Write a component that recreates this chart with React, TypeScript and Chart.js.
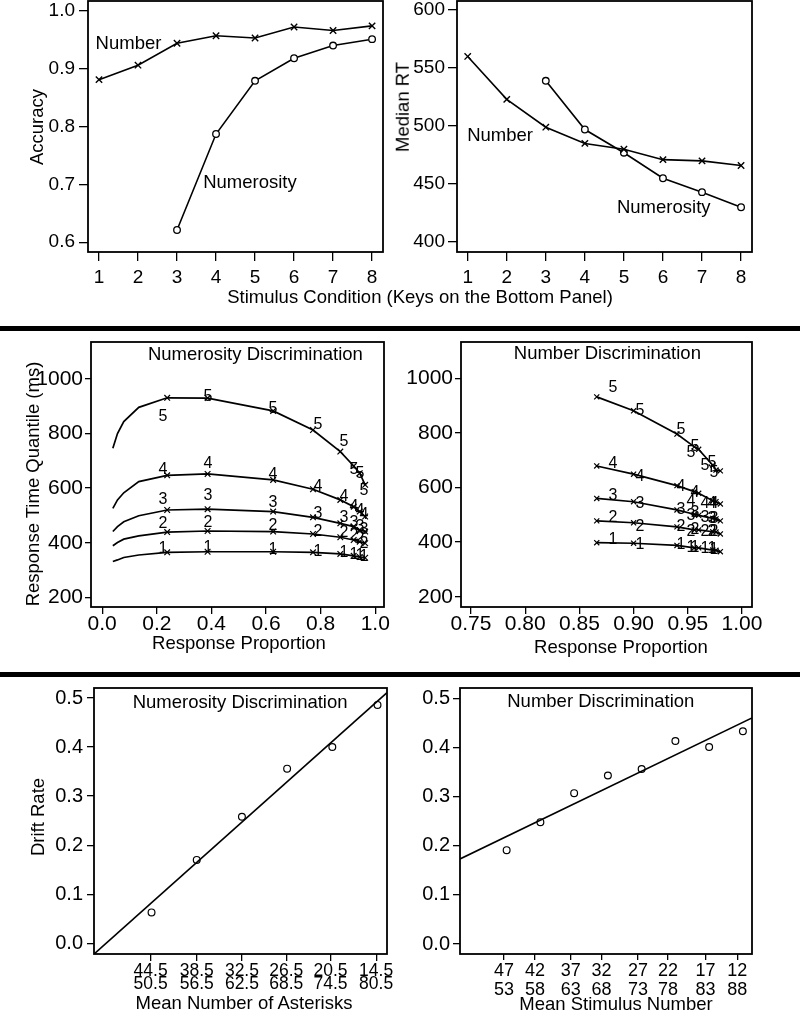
import React, { useEffect, useRef } from 'react';
import { Chart, registerables } from 'chart.js';
Chart.register(...registerables);

const FONT = '"Liberation Sans", Arial, Helvetica, sans-serif';
Chart.defaults.font.family = FONT;

// ---------------- Top row: accuracy and median RT ----------------
const conditions = [1, 2, 3, 4, 5, 6, 7, 8];
const numerosityConditions = [3, 4, 5, 6, 7, 8];
const accuracyNumber = [0.881, 0.906, 0.944, 0.957, 0.953, 0.972, 0.966, 0.974];
const accuracyNumerosity = [0.621, 0.787, 0.879, 0.918, 0.94, 0.951];
const medianRtNumber = [560, 523, 499, 485, 480, 471, 470, 466];
const medianRtNumerosity = [539, 497, 477, 455, 443, 430];
const conditionTicks = [1, 2, 3, 4, 5, 6, 7, 8];
const accuracyTicks = [0.6, 0.7, 0.8, 0.9, 1.0];
const rtTicks = [400, 450, 500, 550, 600];

// ---------------- Middle row: quantile-probability plots ----------------
const quantileTicks = [200, 400, 600, 800, 1000];
const numerosityPropTicks = [0, 0.2, 0.4, 0.6, 0.8, 1.0];
const numberPropTicks = [0.75, 0.8, 0.85, 0.9, 0.95, 1.0];

const numerosityPredProp = [0.039, 0.056, 0.079, 0.134, 0.238, 0.386, 0.626, 0.772, 0.872, 0.921, 0.943, 0.963];
const numerosityPredQ1 = [331, 337, 346, 355, 365, 367, 367, 365, 359, 352, 348, 345];
const numerosityPredQ2 = [389, 401, 413, 425, 439, 443, 441, 432, 420, 410, 404, 398];
const numerosityPredQ3 = [441, 459, 477, 499, 520, 523, 514, 493, 471, 459, 447, 441];
const numerosityPredQ4 = [526, 557, 583, 624, 647, 652, 630, 596, 557, 532, 514, 496];
const numerosityPredQ5 = [746, 800, 844, 896, 931, 930, 883, 813, 734, 681, 655, 612];

const numerosityObsProp = [0.222, 0.386, 0.626, 0.79, 0.884, 0.921, 0.945, 0.957];
const numerosityObsQ1 = [376, 382, 374, 365, 361, 356, 352, 347];
const numerosityObsQ2 = [468, 474, 463, 439, 435, 424, 415, 395];
const numerosityObsQ3 = [556, 570, 547, 506, 490, 471, 459, 447];
const numerosityObsQ4 = [667, 687, 650, 605, 569, 532, 516, 503];
const numerosityObsQ5 = [860, 935, 889, 831, 768, 668, 652, 590];

const numberPredProp = [0.866, 0.9, 0.94, 0.956, 0.96, 0.973, 0.976, 0.98];
const numberPredQ1 = [398, 396, 388, 379, 379, 371, 370, 365];
const numberPredQ2 = [478, 471, 456, 445, 445, 438, 437, 430];
const numberPredQ3 = [560, 548, 518, 502, 498, 487, 485, 478];
const numberPredQ4 = [679, 649, 607, 585, 579, 552, 548, 540];
const numberPredQ5 = [932, 881, 796, 749, 740, 682, 664, 661];

const numberObsProp = [0.881, 0.906, 0.944, 0.953, 0.957, 0.966, 0.972, 0.974];
const numberObsQ1 = [408, 390, 390, 380, 379, 375, 374, 372];
const numberObsQ2 = [489, 457, 457, 438, 444, 438, 438, 436];
const numberObsQ3 = [570, 538, 518, 497, 505, 488, 486, 484];
const numberObsQ4 = [685, 640, 603, 546, 580, 541, 540, 538];
const numberObsQ5 = [963, 880, 811, 725, 749, 679, 691, 652];

// ---------------- Bottom row: drift rates ----------------
const driftTicks = [0, 0.1, 0.2, 0.3, 0.4, 0.5];
const asteriskPos = [1, 2, 3, 4, 5, 6];
const asteriskTickPos = [0.98, 2.0, 3.0, 3.98, 4.96, 5.97];
const asteriskLow = ['44.5', '38.5', '32.5', '26.5', '20.5', '14.5'];
const asteriskHigh = ['50.5', '56.5', '62.5', '68.5', '74.5', '80.5'];
const driftNumerosity = [0.063, 0.17, 0.258, 0.356, 0.4, 0.486];
const fitNumerosityX = [-0.273, 6.21];
const fitNumerosityY = [-0.022, 0.511];

const stimulusPos = [1, 2, 3, 4, 5, 6, 7, 8];
const stimulusTickPos = [0.92, 1.84, 2.9, 3.81, 4.89, 5.78, 6.89, 7.83];
const stimulusLow = ['47', '42', '37', '32', '27', '22', '17', '12'];
const stimulusHigh = ['53', '58', '63', '68', '73', '78', '83', '88'];
const driftNumber = [0.191, 0.248, 0.307, 0.343, 0.356, 0.413, 0.401, 0.433];
const fitNumberX = [-0.382, 8.27];
const fitNumberY = [0.173, 0.46];

// ---------------- helpers ----------------
const PT = 20;
const PR = 30;

type Box = { L: number; T: number; R: number; B: number; YW: number; XH: number };

const pts = (xs: number[], ys: number[]) => xs.map((x, i) => ({ x, y: ys[i] }));

function axis(o: {
  min: number; max: number; ticks: number[];
  fmt: (v: number, i: number) => string | string[];
  size: number; len: number; pad: number; fit: number; horizontal: boolean; lineHeight?: number;
}) {
  return {
    type: 'linear',
    min: o.min,
    max: o.max,
    afterBuildTicks: (s: any) => { s.ticks = o.ticks.map((v) => ({ value: v })); },
    afterFit: (s: any) => { if (o.horizontal) s.height = o.fit; else s.width = o.fit; },
    ticks: {
      callback: (v: any, i: number) => o.fmt(Number(v), i),
      font: { family: FONT, size: o.size, lineHeight: o.lineHeight ?? 1 },
      color: '#000',
      padding: o.pad,
      autoSkip: false,
      maxRotation: 0,
      minRotation: 0,
    },
    grid: { drawOnChartArea: false, drawTicks: true, tickLength: o.len, color: '#000', tickColor: '#000', tickWidth: 1.3, lineWidth: 1.3 },
    border: { display: false },
  };
}

function framePlugin() {
  return {
    id: 'frame',
    afterDraw(chart: any) {
      const { left, top, width, height } = chart.chartArea;
      const ctx = chart.ctx;
      ctx.save();
      ctx.strokeStyle = '#000';
      ctx.lineWidth = 1.8;
      ctx.strokeRect(left, top, width, height);
      ctx.restore();
    },
  };
}

function textPlugin(items: { text: string; x: number; y: number }[]) {
  return {
    id: 'panelText',
    afterDatasetsDraw(chart: any) {
      const ctx = chart.ctx;
      ctx.save();
      ctx.fillStyle = '#000';
      ctx.textAlign = 'center';
      ctx.textBaseline = 'middle';
      // digit markers (observed quantiles) placed by the scales
      ctx.font = `16px ${FONT}`;
      chart.data.datasets.forEach((ds: any, i: number) => {
        if (!ds.digit) return;
        chart.getDatasetMeta(i).data.forEach((el: any) => {
          ctx.fillText(ds.digit, Math.round(el.x), Math.round(el.y));
        });
      });
      ctx.font = `18.5px ${FONT}`;
      for (const it of items) {
        ctx.fillText(it.text, chart.scales.x.getPixelForValue(it.x), chart.scales.y.getPixelForValue(it.y));
      }
      ctx.restore();
    },
  };
}

function baseOptions(x: any, y: any) {
  return {
    responsive: false,
    animation: false,
    events: [],
    devicePixelRatio: 1,
    layout: { padding: { top: PT, right: PR, left: 0, bottom: 0 } },
    plugins: { legend: { display: false }, tooltip: { enabled: false } },
    scales: { x, y },
  };
}

const lineStyle = { showLine: true, borderColor: '#000', borderWidth: 1.6, tension: 0, pointBorderColor: '#000' };

function Panel({ box, build }: { box: Box; build: () => any }) {
  const ref = useRef<HTMLCanvasElement>(null);
  const w = box.R - box.L + box.YW + PR;
  const h = box.B - box.T + PT + box.XH;
  useEffect(() => {
    const chart = new Chart(ref.current as HTMLCanvasElement, build());
    return () => chart.destroy();
  }, []);
  return (
    <canvas
      ref={ref}
      width={w}
      height={h}
      style={{ position: 'absolute', left: box.L - box.YW, top: box.T - PT, width: w, height: h }}
    />
  );
}

function Label({ x, y, text, rotate }: { x: number; y: number; text: string; rotate?: boolean }) {
  return (
    <div
      style={{
        position: 'absolute', left: x, top: y,
        transform: `translate(-50%, -50%)${rotate ? ' rotate(-90deg)' : ''}`,
        fontSize: 18.5, lineHeight: 1, whiteSpace: 'nowrap', color: '#000', fontFamily: FONT,
      }}
    >
      {text}
    </div>
  );
}

// ---------------- panel configs ----------------
const boxTL: Box = { L: 88, T: 1, R: 383, B: 252, YW: 88, XH: 40 };
const boxTR: Box = { L: 457, T: 1, R: 752, B: 252, YW: 70, XH: 40 };
const boxML: Box = { L: 91, T: 342, R: 384, B: 607, YW: 80, XH: 36 };
const boxMR: Box = { L: 461, T: 342, R: 752, B: 607, YW: 70, XH: 36 };
const boxBL: Box = { L: 94, T: 688, R: 387, B: 954, YW: 80, XH: 50 };
const boxBR: Box = { L: 460, T: 688, R: 752, B: 954, YW: 70, XH: 50 };

function buildTL() {
  return {
    type: 'scatter',
    data: {
      datasets: [
        { ...lineStyle, data: pts(conditions, accuracyNumber), pointStyle: 'crossRot', pointRadius: 4.5, pointBorderWidth: 1.4 },
        { ...lineStyle, data: pts(numerosityConditions, accuracyNumerosity), pointStyle: 'circle', pointRadius: 3.3, pointBorderWidth: 1.3, pointBackgroundColor: '#fff' },
      ],
    },
    options: baseOptions(
      axis({ min: 0.718, max: 8.28, ticks: conditionTicks, fmt: (v) => String(v), size: 19, len: 9, pad: 7, fit: boxTL.XH, horizontal: true }),
      axis({ min: 0.583, max: 1.017, ticks: accuracyTicks, fmt: (v) => v.toFixed(1), size: 19, len: 9, pad: 4, fit: boxTL.YW, horizontal: false }),
    ),
    plugins: [framePlugin(), textPlugin([
      { text: 'Number', x: 1.756, y: 0.943 },
      { text: 'Numerosity', x: 4.87, y: 0.702 },
    ])],
  };
}

function buildTR() {
  return {
    type: 'scatter',
    data: {
      datasets: [
        { ...lineStyle, data: pts(conditions, medianRtNumber), pointStyle: 'crossRot', pointRadius: 4.5, pointBorderWidth: 1.4 },
        { ...lineStyle, data: pts(numerosityConditions, medianRtNumerosity), pointStyle: 'circle', pointRadius: 3.3, pointBorderWidth: 1.3, pointBackgroundColor: '#fff' },
      ],
    },
    options: baseOptions(
      axis({ min: 0.726, max: 8.28, ticks: conditionTicks, fmt: (v) => String(v), size: 19, len: 9, pad: 7, fit: boxTR.XH, horizontal: true }),
      axis({ min: 391.4, max: 607.8, ticks: rtTicks, fmt: (v) => String(v), size: 19, len: 9, pad: 3, fit: boxTR.YW, horizontal: false }),
    ),
    plugins: [framePlugin(), textPlugin([
      { text: 'Number', x: 1.83, y: 491.4 },
      { text: 'Numerosity', x: 6.02, y: 429.3 },
    ])],
  };
}

function qpDatasets(predX: number[], preds: number[][], obsX: number[], obs: number[][], markR: number, showMark: (x: number) => boolean) {
  const ds: any[] = [];
  preds.forEach((ys, q) => {
    ds.push({
      ...lineStyle,
      borderWidth: 1.7,
      data: pts(predX, ys),
      pointStyle: 'crossRot',
      pointRadius: predX.map((x) => (showMark(x) ? markR : 0)),
      pointBorderWidth: 1.2,
    });
    ds.push({
      data: pts(obsX, obs[q]),
      showLine: false,
      pointRadius: 0,
      digit: String(q + 1),
    });
  });
  return ds;
}

function buildML() {
  return {
    type: 'scatter',
    data: {
      datasets: qpDatasets(
        numerosityPredProp,
        [numerosityPredQ1, numerosityPredQ2, numerosityPredQ3, numerosityPredQ4, numerosityPredQ5],
        numerosityObsProp,
        [numerosityObsQ1, numerosityObsQ2, numerosityObsQ3, numerosityObsQ4, numerosityObsQ5],
        4,
        (x) => x > 0.2,
      ),
    },
    options: baseOptions(
      axis({ min: -0.041, max: 1.032, ticks: numerosityPropTicks, fmt: (v) => v.toFixed(1), size: 21, len: 7, pad: 0, fit: boxML.XH, horizontal: true }),
      axis({ min: 164.5, max: 1135.5, ticks: quantileTicks, fmt: (v) => String(v), size: 21, len: 6, pad: 2, fit: boxML.YW, horizontal: false }),
    ),
    plugins: [framePlugin(), textPlugin([{ text: 'Numerosity Discrimination', x: 0.561, y: 1088 }])],
  };
}

function buildMR() {
  return {
    type: 'scatter',
    data: {
      datasets: qpDatasets(
        numberPredProp,
        [numberPredQ1, numberPredQ2, numberPredQ3, numberPredQ4, numberPredQ5],
        numberObsProp,
        [numberObsQ1, numberObsQ2, numberObsQ3, numberObsQ4, numberObsQ5],
        3.6,
        () => true,
      ),
    },
    options: baseOptions(
      axis({ min: 0.7408, max: 1.0092, ticks: numberPropTicks, fmt: (v) => v.toFixed(2), size: 21, len: 7, pad: 0, fit: boxMR.XH, horizontal: true }),
      axis({ min: 162.5, max: 1133, ticks: quantileTicks, fmt: (v) => String(v), size: 21, len: 6, pad: 2, fit: boxMR.YW, horizontal: false }),
    ),
    plugins: [framePlugin(), textPlugin([{ text: 'Number Discrimination', x: 0.8758, y: 1089 }])],
  };
}

function buildBL() {
  return {
    type: 'scatter',
    data: {
      datasets: [
        { data: pts(asteriskPos, driftNumerosity), showLine: false, pointStyle: 'circle', pointRadius: 3.4, pointBorderWidth: 1.2, pointBorderColor: '#000', pointBackgroundColor: 'rgba(0,0,0,0)' },
        { ...lineStyle, data: pts(fitNumerosityX, fitNumerosityY), pointRadius: 0 },
      ],
    },
    options: baseOptions(
      axis({ min: -0.273, max: 6.21, ticks: asteriskTickPos, fmt: (_v, i) => [asteriskLow[i], asteriskHigh[i]], size: 17.5, len: 7, pad: 3, fit: boxBL.XH, horizontal: true, lineHeight: 0.77 }),
      axis({ min: -0.0218, max: 0.5204, ticks: driftTicks, fmt: (v) => v.toFixed(1), size: 20, len: 7, pad: 4, fit: boxBL.YW, horizontal: false }),
    ),
    plugins: [framePlugin(), textPlugin([{ text: 'Numerosity Discrimination', x: 2.96, y: 0.4898 }])],
  };
}

function buildBR() {
  return {
    type: 'scatter',
    data: {
      datasets: [
        { data: pts(stimulusPos, driftNumber), showLine: false, pointStyle: 'circle', pointRadius: 3.4, pointBorderWidth: 1.2, pointBorderColor: '#000', pointBackgroundColor: 'rgba(0,0,0,0)' },
        { ...lineStyle, data: pts(fitNumberX, fitNumberY), pointRadius: 0 },
      ],
    },
    options: baseOptions(
      axis({ min: -0.382, max: 8.27, ticks: stimulusTickPos, fmt: (_v, i) => [stimulusLow[i], stimulusHigh[i]], size: 18, len: 6, pad: 2, fit: boxBR.XH, horizontal: true, lineHeight: 1.04 }),
      axis({ min: -0.0203, max: 0.5209, ticks: driftTicks, fmt: (v) => v.toFixed(1), size: 20, len: 7, pad: 3, fit: boxBR.YW, horizontal: false }),
    ),
    plugins: [framePlugin(), textPlugin([{ text: 'Number Discrimination', x: 3.79, y: 0.4916 }])],
  };
}

export default function App() {
  useEffect(() => {
    document.body.style.margin = '0';
  }, []);
  return (
    <div style={{ position: 'absolute', left: 0, top: 0, width: 800, height: 1011, background: '#fff', overflow: 'hidden', fontFamily: FONT }}>
      <Panel box={boxTL} build={buildTL} />
      <Panel box={boxTR} build={buildTR} />
      <Panel box={boxML} build={buildML} />
      <Panel box={boxMR} build={buildMR} />
      <Panel box={boxBL} build={buildBL} />
      <Panel box={boxBR} build={buildBR} />

      <div style={{ position: 'absolute', left: 0, top: 326, width: 800, height: 5, background: '#000' }} />
      <div style={{ position: 'absolute', left: 0, top: 672, width: 800, height: 5, background: '#000' }} />

      <Label x={37} y={127} text="Accuracy" rotate />
      <Label x={403} y={107} text="Median RT" rotate />
      <Label x={420} y={297} text="Stimulus Condition (Keys on the Bottom Panel)" />
      <Label x={33} y={484} text="Response Time Quantile (ms)" rotate />
      <Label x={239} y={643} text="Response Proportion" />
      <Label x={621} y={647} text="Response Proportion" />
      <Label x={38} y={817} text="Drift Rate" rotate />
      <Label x={244} y={1003} text="Mean Number of Asterisks" />
      <Label x={616} y={1004} text="Mean Stimulus Number" />
    </div>
  );
}
